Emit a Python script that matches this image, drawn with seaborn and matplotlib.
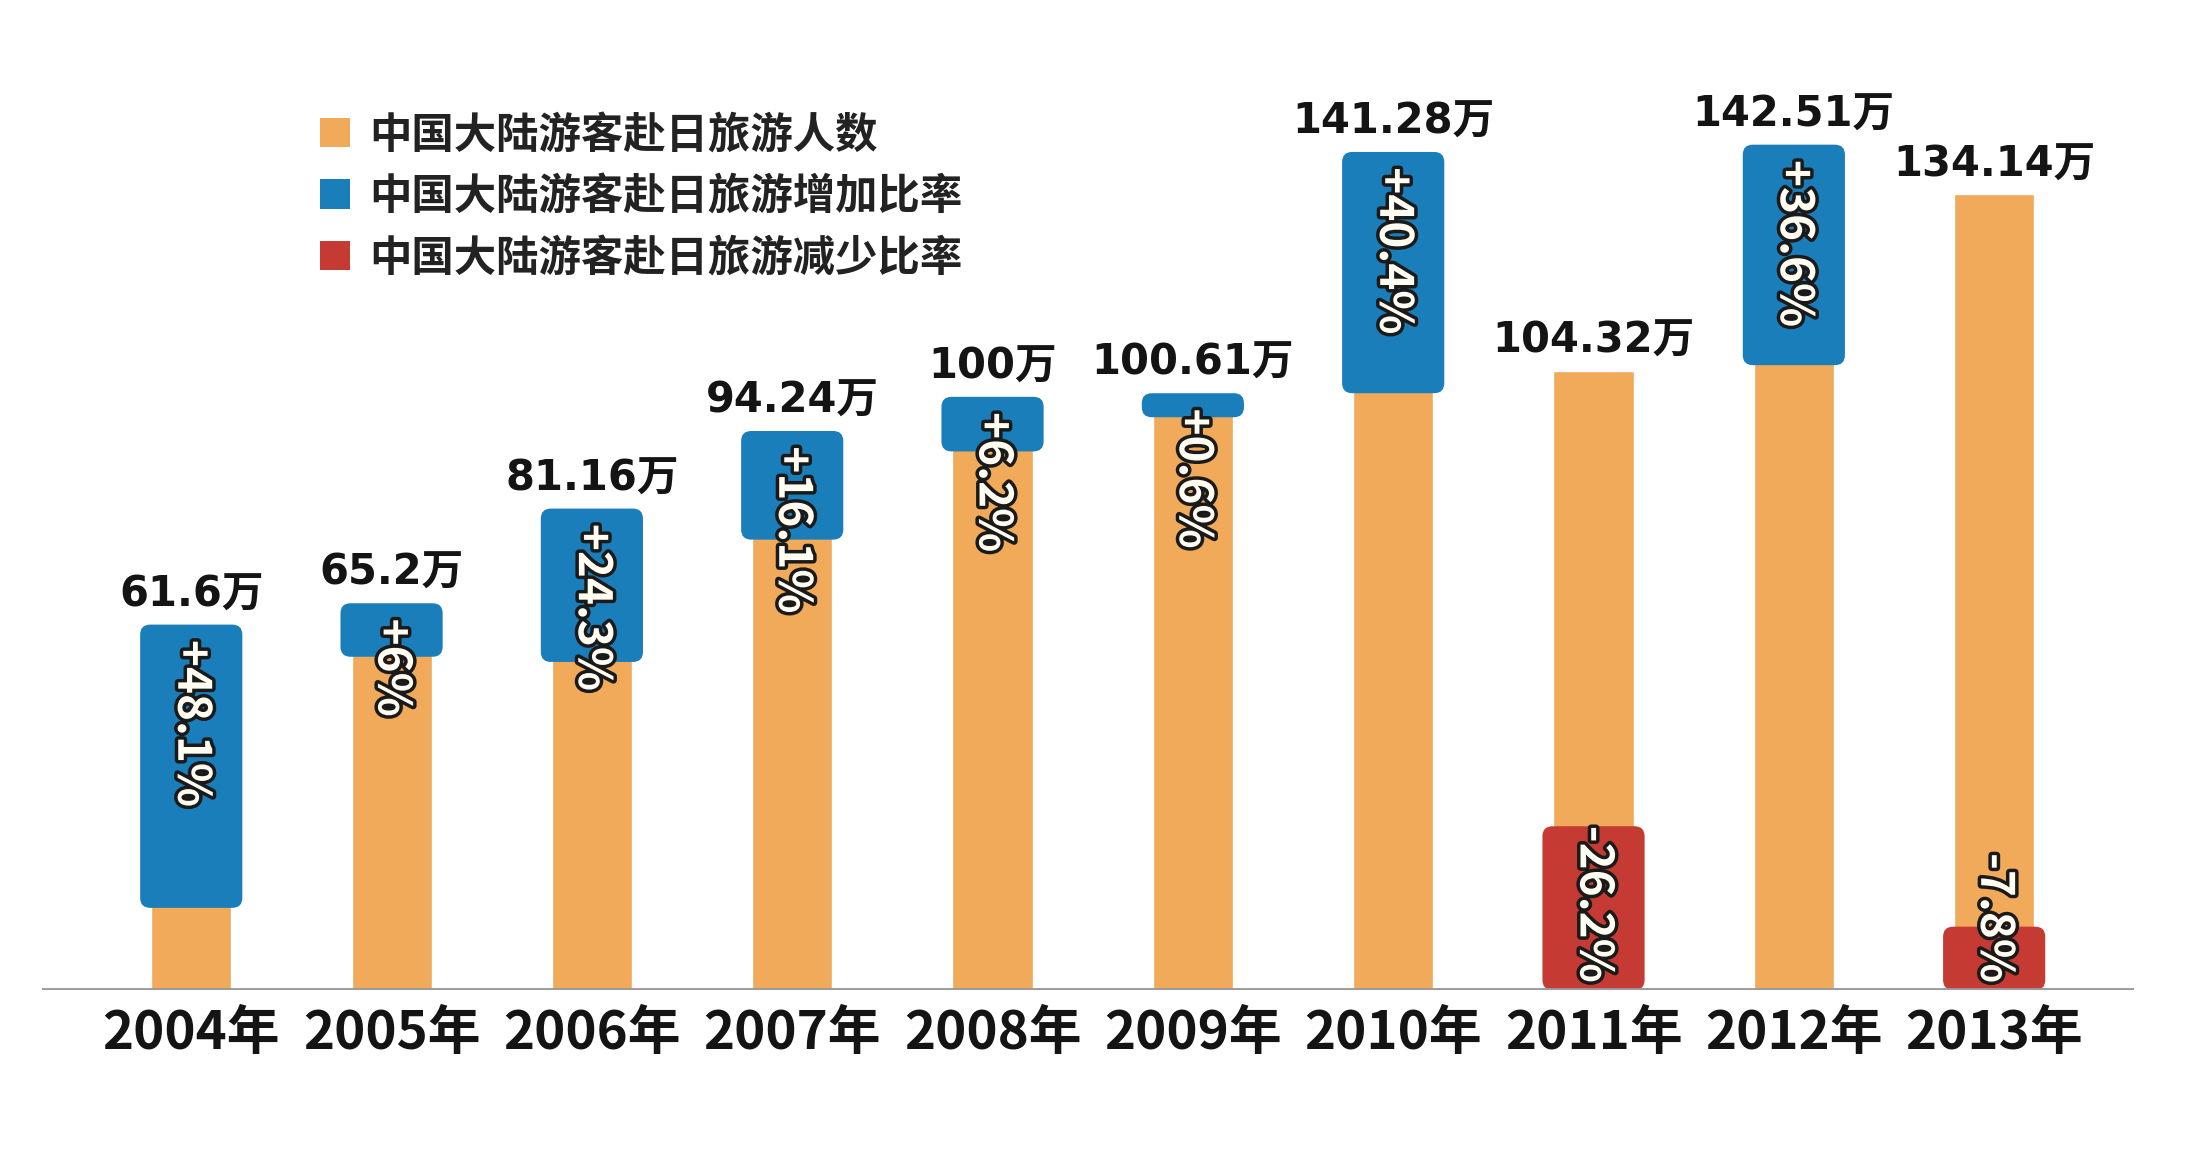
import matplotlib
matplotlib.use('Agg')
import matplotlib.pyplot as plt
import matplotlib.patheffects as pe
from matplotlib.patches import FancyBboxPatch, Patch
import seaborn as sns
import pandas as pd

# ---------------- data ----------------
years = ['2004年', '2005年', '2006年', '2007年', '2008年',
         '2009年', '2010年', '2011年', '2012年', '2013年']
visitors = [61.6, 65.2, 81.16, 94.24, 100, 100.61, 141.28, 104.32, 142.51, 134.14]  # 万人
change_pct = [48.1, 6, 24.3, 16.1, 6.2, 0.6, 40.4, -26.2, 36.6, -7.8]               # %
legend_labels = ['中国大陆游客赴日旅游人数',
                 '中国大陆游客赴日旅游增加比率',
                 '中国大陆游客赴日旅游减少比率']

ORANGE = '#F0AA5A'
BLUE = '#1A7EBA'
RED = '#C53A32'
TEXT = '#141414'

sns.set_theme(style='white')
plt.rcParams['font.family'] = ['Noto Sans CJK SC', 'DejaVu Sans']

fig = plt.figure(figsize=(22, 11.56), dpi=100)
ax = fig.add_axes([0.019, 0.1436, 0.951, 0.8564])

df = pd.DataFrame({'year': years, 'visitors': visitors, 'change': change_pct})
sns.barplot(data=df, x='year', y='visitors', color=ORANGE, width=0.4,
            saturation=1, errorbar=None, ax=ax, zorder=2)

ax.set_xlim(-0.746, 9.698)
ax.set_ylim(0, 166.9)

# change-rate boxes (blue: on top of the bar, red: at the base)
xs = list(range(len(years)))
box_h = [abs(p) + 3.5 - 0.08 * abs(p) for p in change_pct]
box_bottom = [v - h if p > 0 else 0 for v, h, p in zip(visitors, box_h, change_pct)]
box_col = [BLUE if p > 0 else RED for p in change_pct]
rects = ax.bar(xs, box_h, bottom=box_bottom, width=0.51, color=box_col, zorder=3)

# make the boxes rounded
fig.canvas.draw()
bb = ax.get_window_extent()
ux = (ax.get_xlim()[1] - ax.get_xlim()[0]) / bb.width
uy = (ax.get_ylim()[1] - ax.get_ylim()[0]) / bb.height
aspect = uy / ux
for r in rects:
    x0, y0 = r.get_x(), r.get_y()
    w, h = r.get_width(), r.get_height()
    fb = FancyBboxPatch((x0, y0), w, h,
                        boxstyle='round,pad=0,rounding_size=0.05',
                        mutation_aspect=aspect,
                        facecolor=r.get_facecolor(), edgecolor='none', zorder=3)
    ax.add_patch(fb)
    r.remove()

# value labels
for i, v in enumerate(visitors):
    ax.annotate(f'{v:g}万', (i, v), xytext=(0, 13), textcoords='offset points',
                ha='center', va='baseline', fontsize=30, fontweight='bold',
                color=TEXT, family=['DejaVu Sans', 'Noto Sans CJK SC'], zorder=5)

# percentage labels
stroke = [pe.withStroke(linewidth=5, foreground='#1a1a1a')]
for i, (v, p) in enumerate(zip(visitors, change_pct)):
    if p > 0:
        ax.annotate(f'{p:+g}%', (i, v), xytext=(0, -11), textcoords='offset points',
                    ha='center', va='top', rotation=-90, fontsize=33,
                    fontweight='bold', color='#FFFDF2', path_effects=stroke, zorder=6)
    else:
        ax.annotate(f'{p:+g}%', (i, 0), xytext=(0, 5), textcoords='offset points',
                    ha='center', va='bottom', rotation=-90, fontsize=33,
                    fontweight='bold', color='#FFFDF2', path_effects=stroke, zorder=6)

# baseline
ax.axhline(0, color='#9a9a9a', lw=3.5, zorder=4)

for s in ax.spines.values():
    s.set_visible(False)
ax.set_yticks([])
ax.set_xlabel('')
ax.set_ylabel('')
ax.tick_params(axis='x', length=0, pad=12, labelsize=38, labelcolor=TEXT)
for lbl in ax.get_xticklabels():
    lbl.set_fontweight('bold')

handles = [Patch(facecolor=c, edgecolor='none') for c in (ORANGE, BLUE, RED)]
fig.legend(handles, legend_labels, loc='upper left',
           bbox_to_anchor=(0.1455, 0.901), frameon=False,
           prop={'size': 30.5, 'weight': 'bold'}, labelcolor='#222222',
           handlelength=0.7, handleheight=0.7, handletextpad=0.45,
           labelspacing=0.46, borderpad=0, borderaxespad=0)

fig.savefig('out.png', dpi=100, facecolor='white')
